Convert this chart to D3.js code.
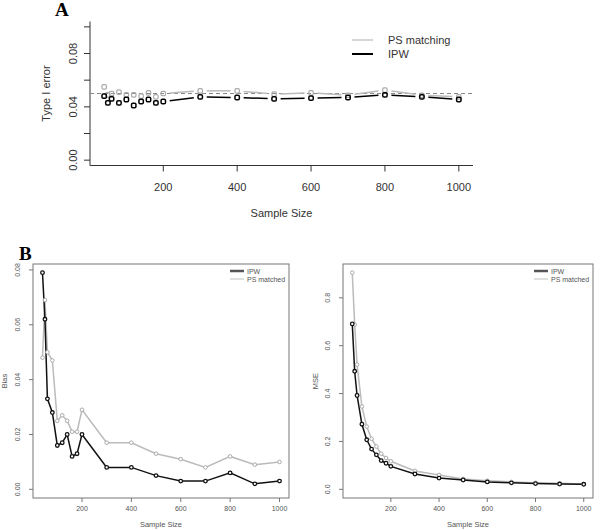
<!DOCTYPE html>
<html><head><meta charset="utf-8">
<script src="https://cdn.jsdelivr.net/npm/d3@7"></script>
<style>body{margin:0;background:#fff}svg{display:block}text{font-family:"Liberation Sans",Arial,sans-serif}text.ttl{font-family:"Liberation Serif","Times New Roman",serif;font-weight:bold}</style>
</head><body><svg id="c" width="600" height="530"></svg>
<script>
const sampleSize = [40,50,60,80,100,120,140,160,180,200,300,400,500,600,700,800,900,1000];
const typeIErrorIPW = [0.048,0.043,0.046,0.043,0.0455,0.041,0.044,0.0455,0.043,0.044,0.0475,0.047,0.046,0.0465,0.047,0.049,0.0475,0.0455];
const typeIErrorPS  = [0.055,0.049,0.050,0.051,0.049,0.049,0.048,0.0505,0.0475,0.050,0.052,0.052,0.0495,0.0505,0.0487,0.0525,0.0487,0.0475];
const nominalAlpha = 0.05;
const biasIPW = [0.079,0.062,0.033,0.028,0.016,0.017,0.020,0.012,0.013,0.020,0.008,0.008,0.005,0.003,0.003,0.006,0.002,0.003];
const biasPS  = [0.048,0.069,0.050,0.047,0.025,0.027,0.025,0.021,0.021,0.029,0.017,0.017,0.013,0.011,0.008,0.012,0.009,0.010];
const mseIPW = [0.691,0.493,0.392,0.272,0.207,0.168,0.144,0.120,0.109,0.096,0.064,0.047,0.039,0.031,0.027,0.024,0.022,0.021];
const msePS  = [0.905,0.688,0.521,0.346,0.262,0.211,0.179,0.149,0.131,0.117,0.077,0.060,0.043,0.036,0.031,0.027,0.025,0.022];
const xTicks = [200,400,600,800,1000];
const yTicksA = [0,0.02,0.04,0.06,0.08,0.10];
const yLabelsA = ["0.00","","0.04","","0.08",""];
const yTicksBias = [0,0.02,0.04,0.06,0.08];
const yTicksMSE = [0,0.2,0.4,0.6,0.8];
const legendA = ["PS matching","IPW"];
const legendB = ["IPW","PS matched"];

const svg = d3.select("#c");
svg.append("rect").attr("width",600).attr("height",530).attr("fill","#fff");

function pad(lo,hi){const r=(hi-lo)*0.04;return [lo-r,hi+r];}
const xDom = pad(d3.min(sampleSize), d3.max(sampleSize));

// segments with gaps around the points (R type="b")
function gapSegments(g, xs, ys, gap, color, w){
  for(let i=0;i<xs.length-1;i++){
    const x1=xs[i],y1=ys[i],x2=xs[i+1],y2=ys[i+1];
    const dx=x2-x1,dy=y2-y1,L=Math.hypot(dx,dy);
    if(L<=2*gap) continue;
    const ux=dx/L,uy=dy/L;
    g.append("line").attr("x1",x1+ux*gap).attr("y1",y1+uy*gap).attr("x2",x2-ux*gap).attr("y2",y2-uy*gap)
      .attr("stroke",color).attr("stroke-width",w);
  }
}

// ---------- Panel A ----------
{
  const L=90,R=473,T=21.5,B=165.5;
  const x=d3.scaleLinear().domain(xDom).range([L,R]);
  const y=d3.scaleLinear().domain([-0.004,0.104]).range([B,T]);
  const g=svg.append("g");
  const tc="#333";
  g.append("line").attr("x1",L).attr("x2",R).attr("y1",B).attr("y2",B).attr("stroke","#333");
  g.append("line").attr("x1",L).attr("x2",L).attr("y1",T).attr("y2",B).attr("stroke","#333");
  xTicks.forEach(t=>{
    g.append("line").attr("x1",x(t)).attr("x2",x(t)).attr("y1",B).attr("y2",B+6).attr("stroke","#333");
    g.append("text").attr("x",x(t)).attr("y",B+25).attr("text-anchor","middle").attr("font-size",11).attr("fill",tc).text(t);
  });
  yTicksA.forEach((t,i)=>{
    g.append("line").attr("x1",L-6).attr("x2",L).attr("y1",y(t)).attr("y2",y(t)).attr("stroke","#333");
    if(yLabelsA[i]) g.append("text").attr("transform",`translate(${L-13},${y(t)}) rotate(-90)`).attr("text-anchor","middle")
      .attr("font-size",11).attr("fill",tc).text(yLabelsA[i]);
  });
  g.append("text").attr("x",(L+R)/2).attr("y",217).attr("text-anchor","middle").attr("font-size",11).attr("fill",tc).text("Sample Size");
  g.append("text").attr("transform",`translate(50,${(T+B)/2}) rotate(-90)`).attr("text-anchor","middle").attr("font-size",11).attr("fill",tc).text("Type I error");
  g.append("line").attr("x1",L).attr("x2",R).attr("y1",y(nominalAlpha)).attr("y2",y(nominalAlpha))
    .attr("stroke","#888").attr("stroke-width",1.2).attr("stroke-dasharray","4,3");
  const xs=sampleSize.map(x);
  gapSegments(g,xs,typeIErrorPS.map(y),6.5,"#bbb",1.5);
  gapSegments(g,xs,typeIErrorIPW.map(y),6.5,"#000",1.5);
  g.selectAll(".pa").data(typeIErrorPS).join("rect").attr("x",(d,i)=>xs[i]-2.2).attr("y",d=>y(d)-2.2)
    .attr("width",4.4).attr("height",4.4).attr("rx",1.3).attr("fill","none").attr("stroke","#aaa").attr("stroke-width",1.2);
  g.selectAll(".pb").data(typeIErrorIPW).join("rect").attr("x",(d,i)=>xs[i]-2.2).attr("y",d=>y(d)-2.2)
    .attr("width",4.4).attr("height",4.4).attr("rx",1.3).attr("fill","none").attr("stroke","#000").attr("stroke-width",1.5);
  // legend
  const lc=["#bbb","#000"], ly=[40,54];
  legendA.forEach((s,i)=>{
    g.append("line").attr("x1",352).attr("x2",373).attr("y1",ly[i]).attr("y2",ly[i]).attr("stroke",lc[i]).attr("stroke-width",i?2:1.2);
    g.append("text").attr("x",388).attr("y",ly[i]+4).attr("font-size",11).attr("fill",tc).text(s);
  });
  svg.append("text").attr("class","ttl").attr("x",55).attr("y",16).attr("font-size",19).attr("fill","#000").text("A");
}

// ---------- Panel B ----------
function panelB(L,R,T,B,yDom,yTicks,fmt,ipw,ps,ylab,ylabX){
  const x=d3.scaleLinear().domain(xDom).range([L,R]);
  const y=d3.scaleLinear().domain(yDom).range([B,T]);
  const g=svg.append("g");
  const tc="#555", fc="#777";
  g.append("rect").attr("x",L).attr("y",T).attr("width",R-L).attr("height",B-T).attr("fill","none").attr("stroke",fc);
  xTicks.forEach(t=>{
    g.append("line").attr("x1",x(t)).attr("x2",x(t)).attr("y1",B).attr("y2",B+4).attr("stroke",fc);
    g.append("text").attr("x",x(t)).attr("y",B+13).attr("text-anchor","middle").attr("font-size",7).attr("fill",tc).text(t);
  });
  yTicks.forEach(t=>{
    g.append("line").attr("x1",L-4).attr("x2",L).attr("y1",y(t)).attr("y2",y(t)).attr("stroke",fc);
    g.append("text").attr("transform",`translate(${L-13},${y(t)}) rotate(-90)`).attr("text-anchor","middle")
      .attr("font-size",7).attr("fill",tc).text(fmt(t));
  });
  g.append("text").attr("x",(L+R)/2).attr("y",527).attr("text-anchor","middle").attr("font-size",7.5).attr("fill",tc).text("Sample Size");
  g.append("text").attr("transform",`translate(${ylabX},${(T+B)/2}) rotate(-90)`).attr("text-anchor","middle").attr("font-size",7.5).attr("fill",tc).text(ylab);
  const line=d3.line().x((d,i)=>x(sampleSize[i])).y(d=>y(d));
  g.append("path").attr("d",line(ps)).attr("fill","none").attr("stroke","#bbb").attr("stroke-width",1.5);
  g.append("path").attr("d",line(ipw)).attr("fill","none").attr("stroke","#111").attr("stroke-width",1.5);
  g.selectAll(".p1").data(ps).join("circle").attr("cx",(d,i)=>x(sampleSize[i])).attr("cy",d=>y(d)).attr("r",1.8)
    .attr("fill","#fff").attr("stroke","#aaa").attr("stroke-width",1);
  g.selectAll(".p2").data(ipw).join("circle").attr("cx",(d,i)=>x(sampleSize[i])).attr("cy",d=>y(d)).attr("r",1.8)
    .attr("fill","#fff").attr("stroke","#111").attr("stroke-width",1.3);
  const lc=["#555","#ccc"], lw=[2.5,1.2], ly=[271,279];
  legendB.forEach((s,i)=>{
    g.append("line").attr("x1",R-59).attr("x2",R-45).attr("y1",ly[i]).attr("y2",ly[i]).attr("stroke",lc[i]).attr("stroke-width",lw[i]);
    g.append("text").attr("x",R-42).attr("y",ly[i]+2.5).attr("font-size",7).attr("fill",tc).text(s);
  });
}
panelB(33,289,264,498,[-0.00316,0.08216],yTicksBias,d3.format(".2f"),biasIPW,biasPS,"Bias",7);
panelB(343,593,264,498,[-0.0362,0.9412],yTicksMSE,d3.format(".1f"),mseIPW,msePS,"MSE",318);
svg.append("text").attr("class","ttl").attr("x",19).attr("y",260).attr("font-size",19).attr("fill","#000").text("B");
</script></body></html>
